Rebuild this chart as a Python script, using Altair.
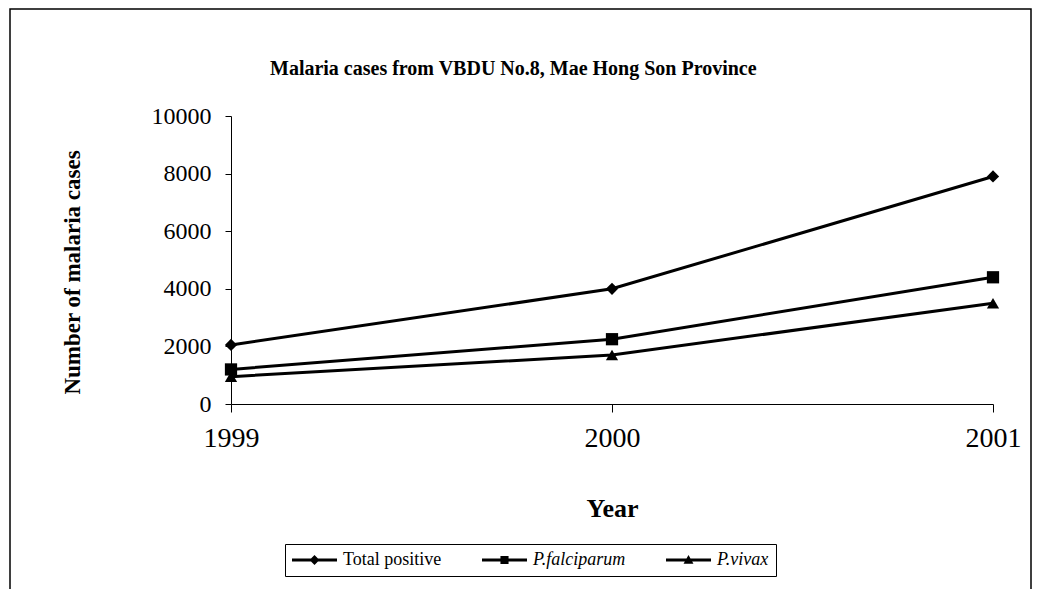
import altair as alt
import pandas as pd

years = [1999, 2000, 2001]
series_names = ["Total positive", "P.falciparum", "P.vivax"]
total_positive = [2050, 4000, 7900]
p_falciparum = [1200, 2250, 4400]
p_vivax = [950, 1700, 3500]

rows = []
for name, vals in zip(series_names, [total_positive, p_falciparum, p_vivax]):
    for y, v in zip(years, vals):
        rows.append({"Year": str(y), "Cases": v, "Series": name})
df = pd.DataFrame(rows)

FONT = "Liberation Serif"
W, H = 762, 288
PAD_L, PAD_T = 223, 108
PAD_R = 1025 - PAD_L - W
PAD_B = 581 - PAD_T - H

x_axis = alt.Axis(
    title="Year", grid=False, labelAngle=0,
    tickSize=8, tickColor="black", domainColor="black",
    labelFont=FONT, labelFontSize=28, labelColor="black", labelPadding=12,
    titleFont=FONT, titleFontSize=26, titleFontWeight="bold", titleColor="black",
    titleY=112, titleBaseline="alphabetic",
)
y_axis = alt.Axis(
    title="Number of malaria cases", values=[0, 2000, 4000, 6000, 8000, 10000],
    format="d", grid=False, tickSize=6, tickColor="black", domainColor="black",
    labelFlush=False, labelOverlap=False,
    labelFont=FONT, labelFontSize=24, labelColor="black", labelPadding=14,
    titleFont=FONT, titleFontSize=23, titleFontWeight="bold", titleColor="black",
    titleX=-159, titleY=156, titleAngle=-90, titleAlign="center", titleBaseline="middle",
)
x_scale = alt.Scale(type="point", domain=[str(y) for y in years], padding=0)
y_scale = alt.Scale(domain=[0, 10000], nice=False)


def xe():
    return alt.X("Year:O", scale=x_scale, axis=x_axis)


def ye():
    return alt.Y("Cases:Q", scale=y_scale, axis=y_axis)


lines = alt.Chart(df).mark_line(color="black", strokeWidth=3).encode(
    x=xe(), y=ye(), detail="Series:N"
)

points = alt.Chart(df).mark_point(filled=True, color="black", size=150, opacity=1).encode(
    x=xe(), y=ye(),
    shape=alt.Shape("Series:N", scale=alt.Scale(domain=series_names,
                    range=["diamond", "square", "triangle-up"]), legend=None),
)

legend_paths = [
    "M-1,-0.17H4V0.17H-1ZM1.5,-0.55L2.05,0L1.5,0.55L0.95,0Z",
    "M-1,-0.17H4V0.17H-1ZM1.05,-0.45H1.95V0.45H1.05Z",
    "M-1,-0.17H4V0.17H-1ZM1.5,-0.55L2.05,0.42H0.95Z",
]

legend_layer = alt.Chart(df).transform_filter("false").mark_point(
    filled=True, color="black", opacity=1
).encode(
    x=xe(), y=ye(),
    shape=alt.Shape(
        "Series:N",
        scale=alt.Scale(domain=series_names, range=legend_paths),
        legend=alt.Legend(
            title=None, orient="none", direction="horizontal",
            legendX=54, legendY=428,
            symbolSize=324, symbolFillColor="black", symbolStrokeColor="black",
            symbolStrokeWidth=0, symbolOpacity=1,
            labelOffset=33, columnPadding=40,
            labelFont=FONT, labelFontSize=18, labelColor="black",
            labelFontStyle={"expr": "datum.label == 'Total positive' ? 'normal' : 'italic'"},
            strokeColor="black", fillColor="white", padding=7, cornerRadius=0,
        ),
    ),
)

frame = alt.Chart(alt.Data(values=[{"a": 1}])).mark_rect(
    fill="transparent", stroke="black", strokeWidth=1.5
).encode(
    x=alt.value(10 - 231), x2=alt.value(1031 - 231),
    y=alt.value(9 - 116), y2=alt.value(620 - 116),
)

chart = alt.layer(frame, lines, points, legend_layer).resolve_scale(
    shape="independent"
).properties(
    width=W, height=H,
    background="white",
    view=alt.ViewBackground(stroke="transparent", strokeWidth=0),
    padding={"left": PAD_L, "top": PAD_T, "right": PAD_R, "bottom": PAD_B},
    autosize=alt.AutoSizeParams(type="none"),
    title=alt.TitleParams(
        "Malaria cases from VBDU No.8, Mae Hong Son Province",
        font=FONT, fontSize=20, fontWeight="bold", color="black",
        anchor="start", frame="group", dx=39, offset=0, dy=87, baseline="alphabetic",
    ),
).configure_view(strokeWidth=0, stroke="transparent").configure_axis(grid=False)

chart.save("out.html", embed_options={"renderer": "svg", "actions": False})
